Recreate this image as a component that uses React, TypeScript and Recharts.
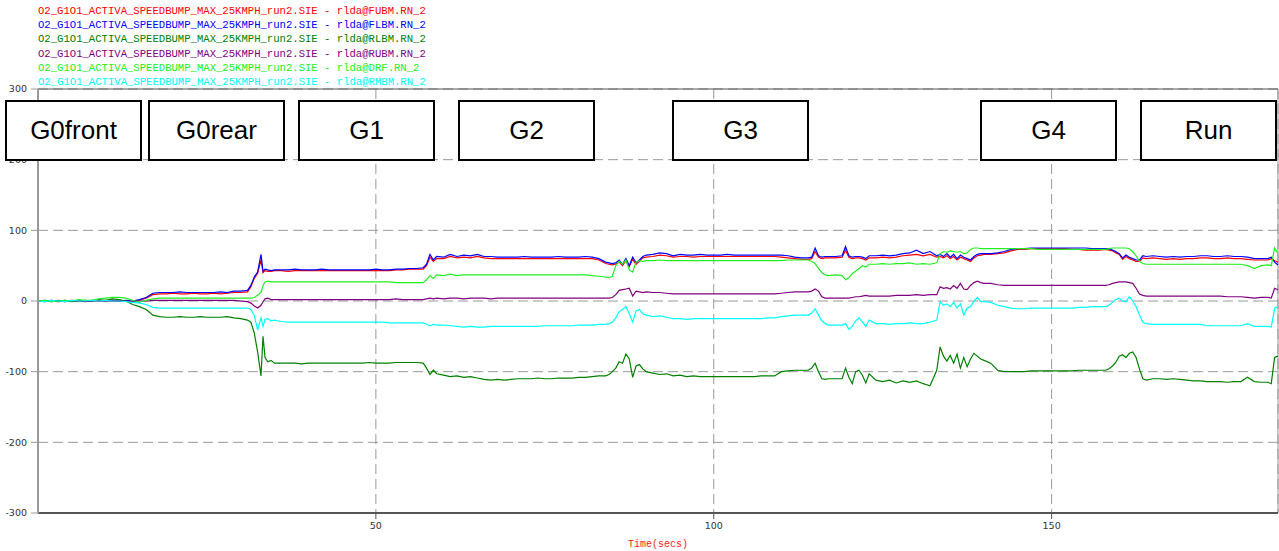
import React from 'react';
import { LineChart, Line, XAxis, YAxis, CartesianGrid, Legend, ReferenceLine } from 'recharts';

// time base (secs) - finer steps where the signals jump
const times = [
  0, 1, 2, 3, 4, 5, 6, 7, 8, 9, 10, 11, 12, 13, 14, 15, 16, 17, 18, 19, 20, 21, 22, 23, 24, 25, 26, 27, 28, 29, 30,
  31, 31.5, 32, 32.5, 33, 33.3, 33.6, 34, 34.5, 35,
  36, 37, 38, 39, 40, 41, 42, 43, 44, 45, 46, 47, 48, 49, 50, 51, 52, 53, 54, 55, 56,
  57, 57.5, 58, 58.5, 59,
  60, 61, 62, 63, 64, 65, 66, 67, 68, 69, 70, 71, 72, 73, 74, 75, 76, 77, 78, 79, 80, 81, 82, 83,
  84, 84.5, 85, 85.5, 86, 86.5, 87, 87.5, 88, 88.5, 89, 89.5, 90,
  91, 92, 93, 94, 95, 96, 97, 98, 99, 100, 101, 102, 103, 104, 105, 106, 107, 108, 109, 110, 111, 112, 113,
  114, 114.5, 115, 115.5, 116, 116.5, 117, 118, 119, 119.5, 120, 120.5, 121, 121.5, 122, 122.5, 123,
  124, 125, 126, 127, 128, 129, 130, 131, 132,
  133, 133.5, 134, 134.5, 135, 135.5, 136, 136.5, 137, 137.5, 138, 138.5, 139, 139.5, 140,
  141, 142, 143, 144, 145, 146, 147, 148, 149, 150, 151, 152, 153, 154, 155, 156, 157,
  158, 158.5, 159, 159.5, 160, 160.5, 161, 161.5, 162, 162.5, 163, 163.5, 164,
  165, 166, 167, 168, 169, 170, 171, 172, 173, 174, 175, 176, 177, 178, 179, 180, 181,
  182, 182.5, 183, 183.5,
];

const fubm = [
  0, 1, 0, -1, 0, 1, 0, 0, 1, 0, 1, 0, 1, 0, -1, 1, 4, 9, 10, 10, 11, 10, 10, 11, 10, 10, 11, 10, 11, 12, 12,
  13, 20, 32, 39, 58, 40, 43, 42, 42, 43,
  43, 42, 43, 43, 43, 43, 43, 43, 43, 43, 43, 43, 43, 43, 43, 43, 43, 44, 44, 45, 45,
  45, 50, 62, 56, 60,
  60, 63, 61, 62, 61, 63, 61, 60, 60, 60, 60, 60, 60, 60, 60, 60, 60, 60, 60, 60, 60, 60, 60, 58,
  53, 52, 51, 52, 55, 50, 57, 49, 59, 52, 56, 61, 62,
  63, 65, 64, 62, 63, 63, 62, 63, 63, 63, 63, 63, 63, 63, 63, 63, 63, 63, 63, 62, 61, 60, 59,
  59, 60, 70, 62, 60, 61, 61, 61, 62, 72, 62, 60, 61, 61, 60, 58, 61,
  61, 62, 61, 62, 64, 65, 66, 64, 66,
  62, 63, 61, 64, 60, 63, 58, 62, 60, 58, 56, 61, 64, 65, 66,
  66, 67, 68, 71, 73, 73, 74, 74, 74, 74, 74, 74, 73, 73, 72, 72, 72,
  73, 72, 71, 68, 66, 59, 63, 60, 58, 56, 56, 61, 60,
  61, 60, 59, 60, 59, 60, 60, 61, 61, 60, 60, 61, 60, 60, 59, 58, 58,
  58, 60, 57, 55,
];

const flbm = [
  0, 0, 1, 0, -1, 0, 1, 0, 0, 1, 0, 1, 0, 1, 0, 2, 5, 11, 12, 12, 12, 13, 12, 12, 12, 12, 12, 13, 12, 14, 14,
  15, 22, 34, 41, 66, 42, 45, 44, 43, 44,
  44, 44, 45, 44, 44, 44, 45, 44, 44, 44, 44, 44, 44, 44, 45, 44, 44, 45, 45, 46, 46,
  47, 52, 66, 58, 63,
  62, 66, 63, 65, 64, 66, 63, 63, 62, 62, 62, 62, 63, 62, 62, 62, 62, 63, 62, 62, 62, 63, 62, 60,
  55, 54, 53, 54, 58, 52, 60, 50, 62, 54, 58, 63, 65,
  66, 68, 67, 64, 66, 65, 65, 66, 65, 65, 65, 66, 65, 65, 65, 65, 65, 65, 65, 65, 64, 62, 61,
  61, 62, 75, 64, 62, 63, 63, 63, 64, 77, 64, 62, 63, 63, 62, 60, 64,
  64, 65, 64, 65, 67, 68, 72, 67, 70,
  64, 66, 63, 67, 62, 66, 60, 65, 62, 60, 58, 63, 66, 67, 67,
  67, 68, 70, 73, 74, 74, 75, 75, 75, 75, 75, 75, 75, 75, 75, 74, 74,
  74, 74, 72, 70, 67, 61, 65, 62, 60, 58, 58, 64, 63,
  64, 63, 62, 63, 62, 63, 63, 64, 64, 63, 63, 64, 63, 63, 62, 60, 60,
  60, 62, 55, 51,
];

const rlbm = [
  0, -1, 0, 1, 0, -1, 0, 1, 0, 2, 1, 3, 2, 0, -5, -8, -12, -20, -22, -23, -23, -22, -23, -23, -22, -23, -23, -23, -22, -24, -25,
  -27, -30, -45, -72, -106, -50, -80, -86, -84, -88,
  -88, -88, -88, -89, -88, -88, -88, -88, -88, -88, -88, -88, -88, -87, -88, -88, -88, -87, -87, -87, -87,
  -88, -95, -104, -98, -103,
  -105, -107, -106, -108, -107, -109, -111, -112, -111, -112, -111, -110, -110, -110, -109, -110, -110, -109, -109, -109, -108, -108, -107, -106,
  -106, -104, -100, -95, -86, -88, -75, -82, -108, -92, -90, -96, -100,
  -102, -104, -103, -106, -105, -107, -106, -107, -107, -107, -107, -107, -107, -107, -107, -107, -106, -106, -106, -100, -99, -98, -98,
  -98, -95, -88, -100, -110, -111, -110, -110, -110, -95, -108, -117, -100, -98, -105, -116, -103,
  -112, -114, -112, -116, -113, -115, -113, -117, -120,
  -98, -65, -78, -85, -77, -88, -75, -95, -80, -93, -82, -74, -78, -82, -84,
  -88, -98, -100, -100, -100, -100, -99, -99, -99, -99, -99, -99, -99, -98, -98, -98, -98,
  -98, -96, -92, -87, -78, -76, -80, -74, -72, -80, -96, -110, -112,
  -110, -110, -111, -110, -111, -112, -113, -113, -114, -114, -114, -115, -114, -114, -108, -114, -115,
  -115, -117, -80, -78,
];

const rubm = [
  0, 0, -1, 0, 1, 0, 0, -1, 0, 1, 0, 1, 0, 0, -1, 0, 0, 1, 1, 1, 1, 1, 1, 1, 1, 1, 1, 1, 1, 1, 0,
  -1, -3, -7, -10, -6, -1, 3, 4, 2, 2,
  2, 2, 2, 2, 2, 2, 2, 2, 2, 2, 2, 2, 2, 2, 2, 2, 2, 3, 2, 2, 2,
  2, 3, 4, 3, 4,
  3, 4, 4, 3, 4, 4, 4, 3, 4, 4, 4, 4, 4, 4, 4, 4, 4, 4, 4, 4, 4, 4, 4, 4,
  4, 4, 5, 9, 15, 16, 17, 18, 7, 14, 13, 12, 13,
  12, 12, 11, 10, 10, 10, 10, 10, 10, 10, 10, 10, 10, 10, 10, 10, 10, 10, 10, 11, 12, 13, 13,
  13, 14, 17, 14, 6, 4, 4, 4, 4, 4, 4, 5, 6, 6, 7, 8, 7,
  7, 7, 7, 8, 8, 8, 9, 8, 9,
  9, 20, 18, 19, 17, 22, 18, 25, 17, 16, 22, 26, 28, 26, 25,
  25, 23, 22, 22, 22, 22, 22, 22, 22, 22, 22, 22, 22, 22, 22, 22, 22,
  22, 23, 25, 26, 27, 27, 27, 26, 25, 18, 10, 8, 7,
  7, 7, 7, 7, 7, 7, 7, 7, 7, 7, 7, 6, 6, 6, 5, 4, 5,
  5, 4, 18, 16,
];

const drf = [
  0, 1, -1, 0, 1, 0, 2, 1, 1, 3, 4, 5, 5, 4, 1, -2, 1, 3, 4, 4, 4, 4, 4, 4, 4, 4, 4, 4, 4, 4, 4,
  4, 4, 5, 8, 12, 22, 27, 28, 27, 27,
  27, 27, 27, 27, 27, 27, 27, 27, 27, 27, 27, 27, 27, 27, 27, 27, 27, 26, 26, 26, 26,
  26, 30, 36, 32, 37,
  36, 38, 36, 37, 37, 37, 37, 37, 37, 37, 37, 37, 37, 37, 37, 37, 37, 37, 37, 37, 37, 37, 36, 35,
  34, 33, 35, 50, 56, 52, 58, 44, 41, 55, 57, 56, 57,
  57, 58, 57, 57, 57, 57, 57, 57, 57, 57, 57, 57, 57, 57, 57, 57, 57, 57, 57, 57, 58, 58, 58,
  58, 56, 53, 46, 40, 37, 36, 37, 36, 30, 33, 39, 42, 46, 50, 48, 52,
  52, 53, 52, 53, 53, 54, 52, 53, 52,
  54, 67, 70, 69, 71, 70, 69, 70, 67, 68, 73, 75, 75, 74, 74,
  74, 74, 74, 74, 74, 74, 74, 73, 73, 73, 73, 73, 73, 73, 73, 73, 73,
  73, 74, 75, 75, 75, 75, 75, 74, 70, 64, 56, 53, 52,
  52, 52, 52, 52, 52, 52, 52, 52, 52, 52, 52, 52, 52, 52, 50, 46, 50,
  51, 50, 75, 67,
];

const rmbm = [
  0, -1, 1, 0, -1, 1, 0, 0, 1, 0, 1, 0, 0, -1, -2, -3, -5, -9, -10, -10, -10, -10, -10, -10, -10, -10, -10, -10, -10, -10, -10,
  -10, -12, -20, -41, -24, -36, -26, -25, -28, -27,
  -29, -30, -30, -30, -30, -30, -30, -30, -30, -30, -30, -30, -30, -30, -30, -30, -31, -31, -31, -31, -31,
  -31, -33, -35, -33, -34,
  -34, -35, -36, -37, -36, -37, -37, -36, -36, -36, -36, -36, -36, -36, -36, -35, -35, -35, -35, -35, -34, -34, -34, -33,
  -33, -32, -30, -24, -15, -12, -8, -18, -30, -14, -12, -18, -20,
  -22, -21, -23, -25, -25, -26, -25, -25, -25, -25, -25, -25, -25, -25, -25, -25, -25, -24, -24, -22, -21, -20, -20,
  -20, -17, -11, -20, -28, -32, -34, -34, -34, -32, -40, -36, -28, -24, -30, -36, -27,
  -32, -32, -33, -32, -32, -31, -32, -32, -30,
  -27, -1, -6, -4, -8, -2, -10, -4, -20, -10, -8, 0, 5, -1, -1,
  -2, -6, -8, -10, -11, -11, -10, -10, -10, -10, -10, -10, -10, -9, -9, -8, -8,
  -8, -6, -2, 2, 4, 0, -1, 6, 0, -8, -20, -30, -32,
  -33, -33, -33, -33, -33, -33, -33, -33, -35, -35, -35, -35, -35, -35, -32, -36, -36,
  -36, -37, -10, -8,
];

const yTicks = [-300, -200, -100, 0, 100, 200, 300];
const xTicks = [50, 100, 150];

const phaseLabels = ['G0front', 'G0rear', 'G1', 'G2', 'G3', 'G4', 'Run'];
const phaseLeft = [5, 148, 298, 458, 672, 980, 1140];

const FILE = 'O2_G1O1_ACTIVA_SPEEDBUMP_MAX_25KMPH_run2.SIE - rlda@';
const series = [
  { key: 'fubm', name: FILE + 'FUBM.RN_2', color: '#ff0000' },
  { key: 'flbm', name: FILE + 'FLBM.RN_2', color: '#0000ff' },
  { key: 'rlbm', name: FILE + 'RLBM.RN_2', color: '#008000' },
  { key: 'rubm', name: FILE + 'RUBM.RN_2', color: '#800080' },
  { key: 'drf', name: FILE + 'DRF.RN_2', color: '#22ee22' },
  { key: 'rmbm', name: FILE + 'RMBM.RN_2', color: '#00ffff' },
];

const data = times.map((t, i) => ({
  t,
  fubm: fubm[i],
  flbm: flbm[i],
  rlbm: rlbm[i],
  rubm: rubm[i],
  drf: drf[i],
  rmbm: rmbm[i],
}));

const tickFont = { fill: '#333', fontSize: 9.5, fontFamily: 'DejaVu Sans' };

const LegendBlock = () => (
  <div style={{ fontFamily: '"Liberation Mono", monospace', fontSize: 10.6, lineHeight: '14.2px' }}>
    {series.map((s) => (
      <div key={s.key} style={{ color: s.color, whiteSpace: 'pre' }}>{s.name}</div>
    ))}
  </div>
);

export default function App() {
  return (
    <div style={{ position: 'absolute', left: 0, top: 0, width: 1279, height: 551, background: '#fff' }}>
      <LineChart width={1279} height={551} data={data} margin={{ top: 89, right: 1, bottom: 0, left: 0 }}>
        <CartesianGrid stroke="#999" strokeDasharray="10 5" />
        <XAxis
          dataKey="t"
          type="number"
          domain={[0, 183.5]}
          ticks={xTicks}
          height={38}
          tick={tickFont}
          tickSize={6}
          tickMargin={3}
          axisLine={{ stroke: '#555', strokeWidth: 2 }}
          tickLine={{ stroke: '#555' }}
          label={{ value: 'Time(secs)', position: 'insideBottom', offset: 4, fill: '#ff2020', fontSize: 10, fontFamily: '"Liberation Mono", monospace' }}
        />
        <YAxis
          type="number"
          domain={[-300, 300]}
          ticks={yTicks}
          width={38}
          tick={tickFont}
          tickSize={7}
          tickMargin={4}
          axisLine={{ stroke: '#999', strokeWidth: 2 }}
          tickLine={{ stroke: '#999' }}
        />
        <ReferenceLine y={300} stroke="#555" />
        <ReferenceLine x={183.5} stroke="#999" />
        <Legend
          layout="vertical"
          align="center"
          verticalAlign="middle"
          wrapperStyle={{ top: 4, left: 38, width: 'auto' }}
          content={() => <LegendBlock />}
        />
        {series.map((s) => (
          <Line
            key={s.key}
            type="linear"
            dataKey={s.key}
            name={s.name}
            stroke={s.color}
            strokeWidth={1.2}
            dot={false}
            isAnimationActive={false}
          />
        ))}
      </LineChart>
      {phaseLabels.map((label, i) => (
        <div
          key={label}
          style={{
            position: 'absolute',
            left: phaseLeft[i],
            top: 100,
            width: 137,
            height: 61,
            boxSizing: 'border-box',
            border: '2px solid #000',
            background: '#fff',
            display: 'flex',
            alignItems: 'center',
            justifyContent: 'center',
            fontFamily: '"Liberation Sans", Arial, sans-serif',
            fontSize: 26,
            color: '#000',
          }}
        >
          {label}
        </div>
      ))}
    </div>
  );
}
